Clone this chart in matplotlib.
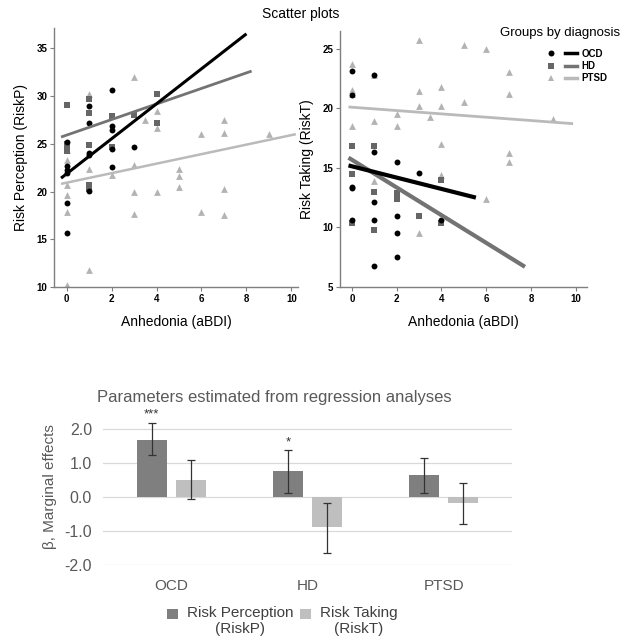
import matplotlib
matplotlib.use("Agg")
import matplotlib.pyplot as plt
from matplotlib.lines import Line2D
from matplotlib.patches import Rectangle
from matplotlib.container import BarContainer
from matplotlib.legend_handler import HandlerTuple, HandlerPatch, update_from_first_child
import numpy as np

plt.rcParams['font.family'] = ['Liberation Sans', 'DejaVu Sans']

# ---------------- data: Risk Perception scatter ----------------
ocd_p_x = [0, 0, 0, 0, 0, 0, 1, 1, 1, 1, 1, 2, 2, 2, 2, 2, 3]
ocd_p_y = [25.2, 22.7, 22.2, 21.9, 18.8, 15.7, 28.9, 27.2, 24.0, 23.8, 20.1, 30.6, 26.9, 26.4, 24.5, 22.6, 24.7]
hd_p_x = [0, 0, 0, 0, 1, 1, 1, 1, 1, 2, 2, 3, 4, 4]
hd_p_y = [29.1, 25.0, 24.6, 24.2, 29.7, 28.2, 24.9, 20.7, 20.3, 27.9, 24.7, 28.0, 30.2, 27.2]
ptsd_p_x = [0, 0, 0, 0, 0, 0, 1, 1, 1, 2, 3, 3, 3, 3, 3.5, 4, 4, 4, 5, 5, 5, 6, 6, 7, 7, 7, 7, 9]
ptsd_p_y = [10.2, 17.9, 19.6, 20.7, 23.3, 24.3, 30.2, 22.4, 11.8, 21.7, 32.0, 22.8, 20.0, 17.6, 27.5,
            28.4, 26.6, 20.0, 22.4, 21.6, 20.5, 26.0, 17.9, 27.5, 26.1, 20.3, 17.5, 26.0]
# regression lines (x range, fitted y at ends)
ocd_p_line_x, ocd_p_line_y = [-0.25, 8.0], [21.4, 36.5]
hd_p_line_x, hd_p_line_y = [-0.25, 8.23], [25.7, 32.6]
ptsd_p_line_x, ptsd_p_line_y = [-0.25, 10.2], [20.8, 26.0]

# ---------------- data: Risk Taking scatter ----------------
ocd_t_x = [0, 0, 0, 0, 0, 1, 1, 1, 1, 1, 2, 2, 2, 2, 3, 4]
ocd_t_y = [23.1, 21.1, 13.4, 13.3, 10.6, 22.8, 16.3, 12.1, 10.6, 6.8, 15.5, 11.0, 9.5, 7.5, 14.6, 10.6]
hd_t_x = [0, 0, 0, 1, 1, 1, 2, 2, 3, 4, 4]
hd_t_y = [16.8, 14.5, 10.4, 16.8, 13.0, 9.8, 12.9, 12.4, 11.0, 14.0, 10.4]
ptsd_t_x = [0, 0, 0, 0, 1, 1, 1, 2, 2, 3, 3, 3, 3, 3.5, 4, 4, 4, 4, 5, 5, 6, 6, 7, 7, 7, 7, 9]
ptsd_t_y = [23.7, 21.5, 21.2, 18.5, 22.8, 18.9, 13.9, 19.5, 18.5, 25.7, 21.4, 20.2, 9.5, 19.3,
            21.8, 20.2, 17.0, 14.4, 25.3, 20.5, 25.0, 12.4, 23.0, 21.2, 16.2, 15.5, 19.1]
ocd_t_line_x, ocd_t_line_y = [-0.15, 5.54], [15.2, 12.5]
hd_t_line_x, hd_t_line_y = [-0.15, 7.73], [15.85, 6.7]
ptsd_t_line_x, ptsd_t_line_y = [-0.15, 9.88], [20.1, 18.7]

# ---------------- data: regression parameters ----------------
groups = ['OCD', 'HD', 'PTSD']
riskp_beta = [1.69, 0.77, 0.64]
riskp_lo = [1.23, 0.12, 0.12]
riskp_hi = [2.18, 1.38, 1.15]
riskt_beta = [0.51, -0.89, -0.16]
riskt_lo = [-0.06, -1.66, -0.78]
riskt_hi = [1.10, -0.18, 0.43]
riskp_sig = ['***', '*', '']

# ---------------- styles ----------------
C_OCD, C_HD, C_PTSD = '#000000', '#666666', '#b3b3b3'
L_OCD, L_HD, L_PTSD = '#000000', '#737373', '#bababa'
SPINE = '#7f7f7f'

fig = plt.figure(figsize=(6.3, 6.38), dpi=100)

def style_scatter(ax, xlim, ylim, yticks):
    ax.set_xlim(*xlim)
    ax.set_ylim(*ylim)
    ax.set_xticks([0, 2, 4, 6, 8, 10])
    ax.set_yticks(yticks)
    for s in ['top', 'right']:
        ax.spines[s].set_visible(False)
    for s in ['left', 'bottom']:
        ax.spines[s].set_color(SPINE)
        ax.spines[s].set_linewidth(1.0)
    ax.tick_params(direction='out', length=3, width=0.8, color=SPINE, labelsize=7, pad=2)
    for t in ax.get_xticklabels() + ax.get_yticklabels():
        t.set_fontweight('bold')
    ax.set_xlabel('Anhedonia (aBDI)', fontsize=10, labelpad=8)

# Left scatter
ax1 = fig.add_axes([0.0862, 0.550, 0.387, 0.406])
ax1.scatter(ptsd_p_x, ptsd_p_y, marker='^', s=24, color=C_PTSD, linewidths=0, zorder=2)
ax1.scatter(hd_p_x, hd_p_y, marker='s', s=24, color=C_HD, linewidths=0, zorder=3)
ax1.scatter(ocd_p_x, ocd_p_y, marker='o', s=18, color=C_OCD, linewidths=0, zorder=4)
ax1.plot(ptsd_p_line_x, ptsd_p_line_y, color=L_PTSD, lw=1.8, zorder=5, solid_capstyle='butt')
ax1.plot(hd_p_line_x, hd_p_line_y, color=L_HD, lw=2.0, zorder=5, solid_capstyle='butt')
ax1.plot(ocd_p_line_x, ocd_p_line_y, color=L_OCD, lw=2.2, zorder=6, solid_capstyle='butt')
style_scatter(ax1, (-0.55, 10.3), (10, 37.1), [10, 15, 20, 25, 30, 35])
ax1.set_ylabel('Risk Perception (RiskP)', fontsize=10, labelpad=6)

# Right scatter
ax2 = fig.add_axes([0.540, 0.550, 0.391, 0.402])
ax2.scatter(ptsd_t_x, ptsd_t_y, marker='^', s=24, color=C_PTSD, linewidths=0, zorder=2)
ax2.scatter(hd_t_x, hd_t_y, marker='s', s=24, color=C_HD, linewidths=0, zorder=3)
ax2.scatter(ocd_t_x, ocd_t_y, marker='o', s=18, color=C_OCD, linewidths=0, zorder=4)
ax2.plot(ptsd_t_line_x, ptsd_t_line_y, color=L_PTSD, lw=2.0, zorder=5, solid_capstyle='butt')
ax2.plot(hd_t_line_x, hd_t_line_y, color=L_HD, lw=3.0, zorder=5, solid_capstyle='butt')
ax2.plot(ocd_t_line_x, ocd_t_line_y, color=L_OCD, lw=3.0, zorder=6, solid_capstyle='butt')
style_scatter(ax2, (-0.52, 10.48), (5, 26.5), [5, 10, 15, 20, 25])
ax2.set_ylabel('Risk Taking (RiskT)', fontsize=10, labelpad=6)

fig.text(0.478, 0.978, 'Scatter plots', ha='center', va='center', fontsize=10)

# Scatter legend
handles = []
for mk, mc, lc, ms in [('o', C_OCD, L_OCD, 4.3), ('s', C_HD, L_HD, 4.8), ('^', C_PTSD, L_PTSD, 4.5)]:
    h1 = Line2D([], [], marker=mk, color=mc, ls='none', markersize=ms, markeredgewidth=0)
    h2 = Line2D([], [], color=lc, lw=2.5)
    handles.append((h1, h2))
fig.text(500 / 630, 1 - 33 / 638, 'Groups by diagnosis', ha='left', va='center', fontsize=9.5)
leg = fig.legend(handles, ['OCD', 'HD', 'PTSD'],
                 handler_map={tuple: HandlerTuple(ndivide=None, pad=0.9)},
                 loc='upper left', bbox_to_anchor=(538 / 630, 1 - 42 / 638), frameon=False,
                 handlelength=3.3, handletextpad=0.5, labelspacing=0.24,
                 borderpad=0.2, prop={'size': 7, 'weight': 'bold'})

# ---------------- Bar chart ----------------
GRAY_TXT = '#595959'
C_DARK, C_LIGHT = '#7f7f7f', '#bfbfbf'
ax3 = fig.add_axes([103 / 630, 1 - 565 / 638, 409 / 630, (565 - 409) / 638])
x = np.arange(len(groups))
w = 0.22
off = 0.143
p_err = [np.array(riskp_beta) - np.array(riskp_lo), np.array(riskp_hi) - np.array(riskp_beta)]
t_err = [np.array(riskt_beta) - np.array(riskt_lo), np.array(riskt_hi) - np.array(riskt_beta)]
ax3.bar(x - off, riskp_beta, w, color=C_DARK, zorder=3, label='Risk Perception\n(RiskP)')
ax3.bar(x + off, riskt_beta, w, color=C_LIGHT, zorder=3, label='Risk Taking\n(RiskT)')
ax3.errorbar(x - off, riskp_beta, yerr=p_err, fmt='none', ecolor='#333333', elinewidth=0.9,
             capsize=3, capthick=0.9, zorder=4)
ax3.errorbar(x + off, riskt_beta, yerr=t_err, fmt='none', ecolor='#333333', elinewidth=0.9,
             capsize=3, capthick=0.9, zorder=4)
for xi, hi, sig in zip(x - off, riskp_hi, riskp_sig):
    if sig:
        ax3.annotate(sig, (xi, hi), xytext=(0, 6), textcoords='offset points',
                     ha='center', va='center', fontsize=9.5, color='#333333')
ax3.set_xlim(-0.5, 2.5)
ax3.set_ylim(-2.0, 2.6)
ax3.set_yticks([-2, -1, 0, 1, 2])
ax3.set_yticklabels(['-2.0', '-1.0', '0.0', '1.0', '2.0'])
ax3.set_xticks(x)
ax3.set_xticklabels(groups)
ax3.grid(axis='y', color='#d9d9d9', lw=0.9, zorder=0)
for s in ax3.spines.values():
    s.set_visible(False)
ax3.tick_params(length=0, labelsize=11.5, labelcolor=GRAY_TXT, pad=8)
ax3.tick_params(axis='x', labelsize=11, pad=10)
ax3.set_ylabel('β, Marginal effects', fontsize=11, color=GRAY_TXT, labelpad=5)
ax3.set_title('Parameters estimated from regression analyses', fontsize=12,
              color=GRAY_TXT, loc='left', x=-0.015, pad=5)


def top_square(legend, orig_handle, xdescent, ydescent, width, height, fontsize):
    side = 0.7 * fontsize
    return Rectangle((-xdescent + (width - side) / 2, -ydescent + height * 0.5 + side * 0.2),
                     side, side)


leg2 = ax3.legend(loc='upper left', bbox_to_anchor=(0.135, -0.215), ncol=2, frameon=False,
                  handlelength=0.9, handleheight=0.7, handletextpad=0.5, columnspacing=0.3,
                  borderpad=0, fontsize=11, labelcolor='#404040',
                  handler_map={BarContainer: HandlerPatch(patch_func=top_square,
                                                          update_func=update_from_first_child)})
for t in leg2.get_texts():
    t.set_multialignment('center')

fig.savefig('out.png', dpi=100)
